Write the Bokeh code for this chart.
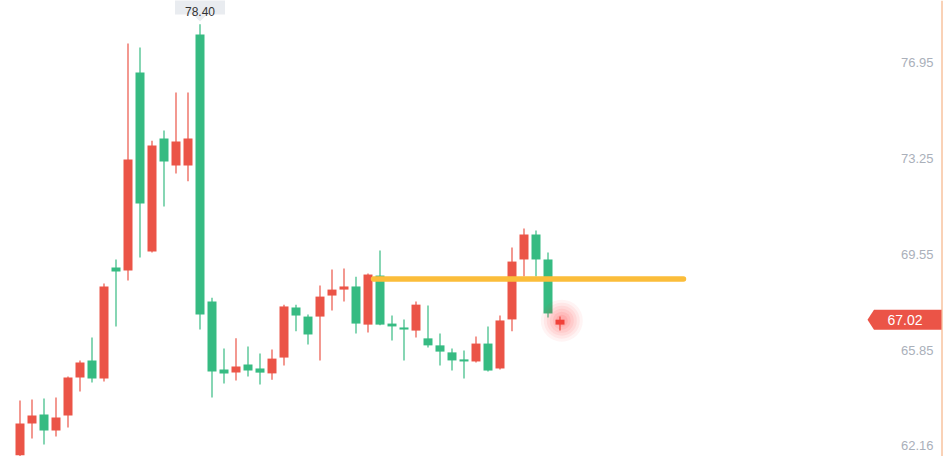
from bokeh.plotting import figure
from bokeh.models import ColumnDataSource, Range1d
from bokeh.core.properties import value
from bokeh.embed import file_html
from bokeh.resources import INLINE

# ---------------- data ----------------
opens = [61.80, 63.02, 63.37, 62.75, 63.33, 64.79, 65.45, 64.75, 69.03, 68.92,
         76.55, 69.65, 74.00, 72.96, 72.96, 78.01, 67.72, 65.10, 64.98, 65.29,
         65.14, 64.95, 65.56, 67.49, 67.14, 67.14, 67.95, 68.18, 68.30, 66.83,
         68.72, 66.87, 66.72, 66.60, 66.30, 66.03, 65.76, 65.49, 65.41, 66.10,
         65.14, 67.03, 69.34, 70.30, 69.34, 66.83]
closes = [63.02, 63.33, 62.75, 63.25, 64.79, 65.37, 64.75, 68.30, 68.88, 73.19,
          71.50, 73.73, 73.12, 73.89, 74.00, 67.22, 65.02, 64.95, 65.22, 65.06,
          64.98, 65.52, 67.53, 67.18, 66.45, 67.91, 68.18, 68.30, 66.87, 68.76,
          66.83, 66.76, 66.64, 67.60, 66.03, 65.79, 65.45, 65.41, 66.10, 65.06,
          66.99, 69.26, 70.30, 69.34, 67.26, 67.02]
highs = [63.91, 63.94, 63.98, 64.02, 64.83, 65.45, 66.33, 68.41, 69.34, 77.66,
         77.51, 73.92, 74.31, 75.77, 75.77, 78.40, 67.87, 65.91, 66.30, 65.99,
         65.72, 65.87, 67.60, 67.60, 67.22, 68.34, 68.95, 68.99, 68.67, 68.80,
         69.69, 67.18, 67.03, 67.72, 67.57, 66.49, 65.91, 65.83, 66.37, 66.76,
         67.18, 69.80, 70.53, 70.46, 69.61, 67.14]
lows = [61.50, 62.44, 62.21, 62.52, 62.87, 64.25, 64.60, 64.64, 66.76, 68.53,
        69.42, 69.61, 71.38, 72.65, 72.35, 66.64, 64.02, 64.56, 64.68, 64.83,
        64.52, 64.71, 65.25, 66.57, 66.06, 65.45, 67.37, 67.72, 66.49, 66.53,
        66.81, 66.22, 65.45, 66.33, 65.95, 65.25, 65.06, 64.75, 65.37, 65.02,
        65.10, 66.57, 68.68, 68.68, 67.10, 66.60]
tick_values = [76.95, 73.25, 69.55, 65.85, 62.16]
tick_labels = ["76.95", "73.25", "69.55", "65.85", "62.16"]
level_price = 68.59
level_start = 29.46
level_end = 55.29

# ---------------- layout ----------------
W, H = 943, 456
PX_X = 12.0      # px per candle
PX_Y = 25.95     # px per price unit
X0 = -19.5 / PX_X
X1 = X0 + W / PX_X
Y1 = 79.320
Y0 = Y1 - H / PX_Y

def dx(px):
    return X0 + px / PX_X

def dy(py):
    return Y1 - py / PX_Y

RED = "#eb5447"
GREEN = "#36bb82"

n = len(opens)
idx = list(range(n))
colors = [RED if c >= o else GREEN for o, c in zip(opens, closes)]
src = ColumnDataSource(dict(
    x=idx, open=opens, close=closes, high=highs, low=lows,
    top=[max(o, c) for o, c in zip(opens, closes)],
    bottom=[min(o, c) for o, c in zip(opens, closes)],
    color=colors,
))

p = figure(width=W, height=H, x_range=Range1d(X0, X1), y_range=Range1d(Y0, Y1),
           output_backend="svg", toolbar_location=None, min_border=0,
           x_axis_location=None, y_axis_location=None)
p.grid.visible = False
p.outline_line_color = None
p.background_fill_color = "white"
p.border_fill_color = "white"

# wicks and bodies
p.segment(x0="x", y0="high", x1="x", y1="low", line_color="color", line_width=1.2, source=src)
p.vbar(x="x", width=0.75, top="top", bottom="bottom", fill_color="color",
       line_color=None, source=src)

# glow around the last candle
last = n - 1
mid_last = (opens[last] + closes[last]) / 2 + 1.5 / PX_Y
for s, a in [(42, 0.05), (36, 0.06), (30, 0.07), (24, 0.08), (18, 0.09), (12, 0.10)]:
    p.scatter(x=[last + 0.15], y=[mid_last], size=s, fill_color="#ff2a2a", fill_alpha=a,
              line_color=None)

# resistance line
p.line(x=[level_start, level_end], y=[level_price, level_price], line_color="#fbbd3a",
       line_width=5.5, line_cap="round")

# right edge line
p.line(x=[dx(941.5), dx(941.5)], y=[Y0, Y1], line_color="#f4a46e", line_width=1)

# price axis labels
lab_src = ColumnDataSource(dict(x=[dx(933)] * len(tick_values), y=tick_values,
                                text=tick_labels))
p.text(x="x", y="y", text="text", source=lab_src, text_align="right",
       text_baseline="middle", text_font_size="13px", text_color="#aab0ba",
       text_font=value("Liberation Sans"))

# last price tag
last_close = closes[last]
hh = 10 / PX_Y
p.patch(x=[dx(867), dx(873.5), dx(941), dx(941), dx(873.5)],
        y=[last_close, last_close + hh, last_close + hh, last_close - hh, last_close - hh],
        fill_color="#eb5447", line_color=None)
p.text(x=[dx(904.5)], y=[last_close], text=[f"{last_close:.2f}"], text_align="center",
       text_baseline="middle", text_font_size="14px", text_color="white",
       text_font=value("Liberation Sans"))

# max-high tooltip
imax = max(range(n), key=lambda i: highs[i])
cx = imax
p.quad(left=[cx - 25 / PX_X], right=[cx + 25 / PX_X], top=[dy(-4)], bottom=[dy(14)],
       fill_color="#e9ecf0", line_color=None)
p.patch(x=[cx - 7 / PX_X, cx + 7 / PX_X, cx], y=[dy(14), dy(14), dy(21)],
        fill_color="#e9ecf0", line_color=None)
p.text(x=[cx], y=[dy(10.5)], text=[f"{highs[imax]:.2f}"], text_align="center",
       text_baseline="alphabetic", text_font_size="12px", text_color="#333333",
       text_font=value("Liberation Sans"))

open("out.html", "w").write(file_html(p, INLINE))
